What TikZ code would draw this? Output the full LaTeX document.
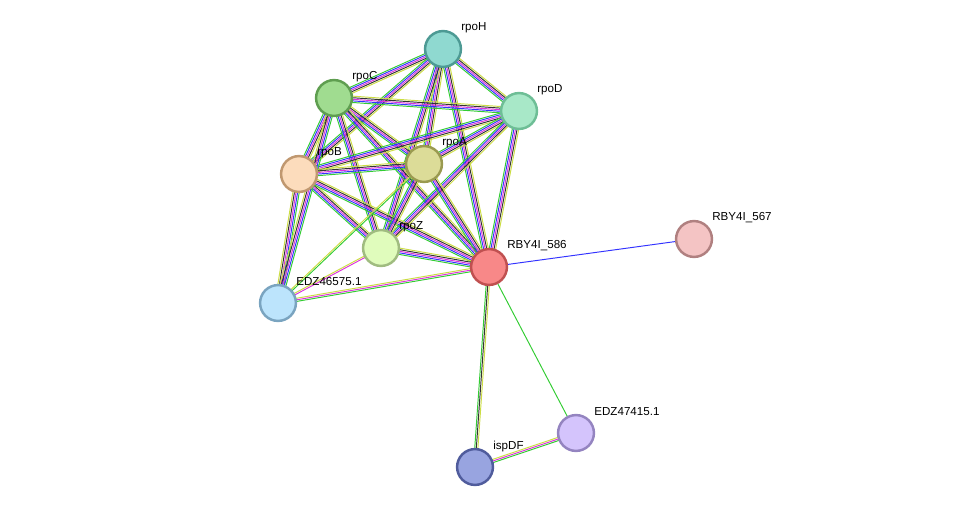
\documentclass[tikz,border=0pt]{standalone}
\usepackage{fontspec}
\setmainfont{Liberation Sans}
\usetikzlibrary{calc}
\definecolor{eg}{HTML}{33CC33}
\definecolor{eb}{HTML}{3333FF}
\definecolor{em}{HTML}{DD33DD}
\definecolor{ey}{HTML}{CCDD44}
\definecolor{ek}{HTML}{333333}
% bundle of parallel lines between two nodes
\newcommand{\bund}[3]{%
  \foreach \c [count=\i] in {#3} {\xdef\nb{\i}}%
  \foreach \c [count=\i] in {#3} {%
    \pgfmathsetmacro{\off}{(\i-(\nb+1)/2)*0.9}%
    \draw[\c, line width=0.55pt] ($(#1)!\off pt!90:(#2)$) -- ($(#2)!\off pt!-90:(#1)$);
  }%
}
\begin{document}
\begin{tikzpicture}[x=0.02cm, y=-0.02cm]
  \tikzstyle{prot} = [shape = circle, line width=1.4pt, minimum size=36pt*0.567, inner sep=0pt]
  \tikzstyle{lbl}  = [anchor = west, inner sep=0pt, font=\fontsize{6.6}{7}\selectfont]

  \useasboundingbox (0,0) rectangle (976,513);

  \coordinate (rpoH) at (443,49);
  \coordinate (rpoC) at (334,98);
  \coordinate (rpoD) at (519,111);
  \coordinate (rpoB) at (299,174);
  \coordinate (rpoA) at (424,164);
  \coordinate (rpoZ) at (381,248);
  \coordinate (r586) at (489,267);
  \coordinate (r567) at (694,239);
  \coordinate (e575) at (278,303);
  \coordinate (e415) at (576,433);
  \coordinate (isp)  at (475,467);

  % core complex
  \foreach \a/\b in {rpoH/rpoC, rpoH/rpoD, rpoH/rpoB, rpoH/rpoA, rpoH/rpoZ, rpoH/r586,
                     rpoC/rpoD, rpoC/rpoB, rpoC/rpoA, rpoC/rpoZ, rpoC/r586,
                     rpoD/rpoB, rpoD/rpoA, rpoD/rpoZ, rpoD/r586,
                     rpoB/rpoA, rpoB/rpoZ, rpoB/r586,
                     rpoA/rpoZ, rpoA/r586, rpoZ/r586}
    {\bund{\a}{\b}{eg,eb,em,ek,ey}}
  \bund{e575}{rpoB}{eg,eb,em,ek,ey}
  \bund{e575}{rpoC}{eg,eb,em,ek,ey}
  \bund{e575}{rpoZ}{em,ey}
  \bund{e575}{r586}{eg,em,ey}
  \bund{e575}{rpoA}{eg,ey}
  \bund{r586}{r567}{eb}
  \bund{r586}{isp}{eg,ek,ey}
  \bund{r586}{e415}{eg}
  \bund{isp}{e415}{eg,em,ey}

  \node[prot, fill={rgb,255:red,143;green,217;blue,208}, draw={rgb,255:red,77;green,154;blue,148}] at (rpoH) (nH) {};
  \node[prot, fill={rgb,255:red,160;green,220;blue,144}, draw={rgb,255:red,95;green,158;blue,80}] at (rpoC) (nC) {};
  \node[prot, fill={rgb,255:red,168;green,232;blue,200}, draw={rgb,255:red,110;green,190;blue,150}] at (rpoD) (nD) {};
  \node[prot, fill={rgb,255:red,252;green,220;blue,188}, draw={rgb,255:red,192;green,152;blue,112}] at (rpoB) (nB) {};
  \node[prot, fill={rgb,255:red,220;green,220;blue,152}, draw={rgb,255:red,154;green,154;blue,80}] at (rpoA) (nA) {};
  \node[prot, fill={rgb,255:red,224;green,252;blue,188}, draw={rgb,255:red,160;green,188;blue,128}] at (rpoZ) (nZ) {};
  \node[prot, fill={rgb,255:red,248;green,136;blue,136}, draw={rgb,255:red,192;green,80;blue,80}] at (r586) (n586) {};
  \node[prot, fill={rgb,255:red,244;green,196;blue,196}, draw={rgb,255:red,176;green,128;blue,128}] at (r567) (n567) {};
  \node[prot, fill={rgb,255:red,188;green,228;blue,252}, draw={rgb,255:red,122;green,164;blue,192}] at (e575) (n575) {};
  \node[prot, fill={rgb,255:red,212;green,196;blue,252}, draw={rgb,255:red,148;green,132;blue,192}] at (e415) (n415) {};
  \node[prot, fill={rgb,255:red,152;green,164;blue,224}, draw={rgb,255:red,80;green,92;blue,156}] at (isp) (nisp) {};

  \node[lbl] at (461,28)  {rpoH};
  \node[lbl] at (352,77)  {rpoC};
  \node[lbl] at (537,90)  {rpoD};
  \node[lbl] at (317,153) {rpoB};
  \node[lbl] at (442,143) {rpoA};
  \node[lbl] at (399,227) {rpoZ};
  \node[lbl] at (507,246) {RBY4I\_586};
  \node[lbl] at (712,218) {RBY4I\_567};
  \node[lbl] at (296,282) {EDZ46575.1};
  \node[lbl] at (594,412) {EDZ47415.1};
  \node[lbl] at (493,446) {ispDF};
\end{tikzpicture}
\end{document}
